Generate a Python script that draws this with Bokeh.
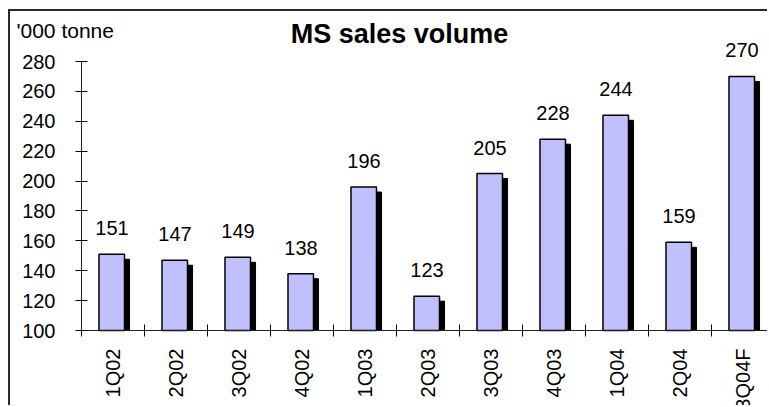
from bokeh.plotting import figure
from bokeh.models import ColumnDataSource, Range1d, FixedTicker, Label, LabelSet
from bokeh.core.properties import value
from bokeh.transform import dodge
from bokeh.embed import file_html
from bokeh.resources import INLINE

# ---- data ----
categories = ["1Q02", "2Q02", "3Q02", "4Q02", "1Q03", "2Q03", "3Q03", "4Q03", "1Q04", "2Q04", "3Q04F"]
volumes = [151, 147, 149, 138, 196, 123, 205, 228, 244, 159, 270]
y_ticks = [100, 120, 140, 160, 180, 200, 220, 240, 260, 280]
title_text = "MS sales volume"
unit_text = "'000 tonne"

FONT = "Liberation Sans"
W, H = 759, 396          # canvas size (page offset 10, 11 incl. border)
AX_X = 71                # canvas x of the value axis
Y_TOP, Y_BOT = 50, 319   # canvas y of top and bottom tick
CAT_W = 63               # px per category
n = len(categories)
centers = [i + 0.5 for i in range(n)]
boundaries = list(range(n + 1))

ppu = (Y_BOT - Y_TOP) / (y_ticks[-1] - y_ticks[0])
x_range = Range1d(-AX_X / CAT_W, (W - AX_X) / CAT_W)
y_range = Range1d(y_ticks[0] - (H - Y_BOT) / ppu, y_ticks[-1] + Y_TOP / ppu)


def cx(px):
    """canvas x pixel -> data x"""
    return (px - AX_X) / CAT_W


def cy(py):
    """canvas y pixel -> data y"""
    return y_ticks[0] + (Y_BOT - py) / ppu


src = ColumnDataSource(dict(x=centers, top=volumes, label=[str(v) for v in volumes]))

p = figure(width=W, height=H, x_range=x_range, y_range=y_range,
           output_backend="svg", toolbar_location=None,
           min_border_left=0, min_border_top=0, min_border_right=0, min_border_bottom=0)
p.styles = {"margin-left": "8px", "margin-top": "9px",
            "border-left": "2px solid #2a2a2a", "border-top": "2px solid #2a2a2a"}
p.outline_line_color = None
p.xgrid.visible = False
p.ygrid.visible = False
p.background_fill_color = "white"
p.border_fill_color = "white"

# shadow bars
p.vbar(x=dodge("x", 0.06), top=dodge("top", -5 / ppu), bottom=y_ticks[0], width=0.405, source=src,
       fill_color="black", line_color="black", line_width=1)
# main bars
p.vbar(x=dodge("x", -0.02), top="top", bottom=y_ticks[0], width=0.405, source=src,
       fill_color="#C0C0FF", line_color="black", line_width=1.5)

labels = LabelSet(x="x", y="top", text="label", source=src, text_align="center",
                  text_baseline="alphabetic", y_offset=19, x_offset=-1,
                  text_font=value(FONT), text_font_size=value("20px"), text_color="black")
p.add_layout(labels)

# x axis (category labels at centres, tick marks at boundaries), fixed at y = 100
xa = p.xaxis[0]
xa.fixed_location = y_ticks[0]
xa.ticker = FixedTicker(ticks=centers, minor_ticks=boundaries)
xa.bounds = (0, n)
xa.major_label_overrides = {c: lab for c, lab in zip(centers, categories)}
xa.major_label_orientation = 1.5707963
xa.major_tick_line_color = None
xa.major_tick_in = 0
xa.major_tick_out = 6
xa.minor_tick_in = 6
xa.minor_tick_out = 6
xa.minor_tick_line_color = "black"
xa.axis_line_color = "#222222"
xa.major_label_standoff = 12
xa.major_label_text_font = FONT
xa.major_label_text_font_size = "20px"
xa.major_label_text_color = "black"

# y axis, fixed at x = 0 inside the frame
ya = p.yaxis[0]
ya.fixed_location = 0
ya.ticker = FixedTicker(ticks=y_ticks)
ya.bounds = (y_ticks[0], y_ticks[-1])
ya.major_tick_in = 6
ya.major_tick_out = 6
ya.minor_tick_line_color = None
ya.major_tick_line_color = "black"
ya.axis_line_color = "#222222"
ya.major_label_standoff = 20
ya.major_label_text_font = FONT
ya.major_label_text_font_size = "20px"
ya.major_label_text_color = "black"

# texts placed through the data scales (vertically centred)
p.add_layout(Label(x=cx(6), y=cy(19), text=unit_text,
                   text_font=FONT, text_font_size="21px", text_baseline="middle",
                   text_color="black"))
p.add_layout(Label(x=cx(389), y=cy(22), text=title_text,
                   text_font=FONT, text_font_size="27px", text_font_style="bold",
                   text_align="center", text_baseline="middle", text_color="black"))

open("out.html", "w").write(file_html(p, INLINE))
